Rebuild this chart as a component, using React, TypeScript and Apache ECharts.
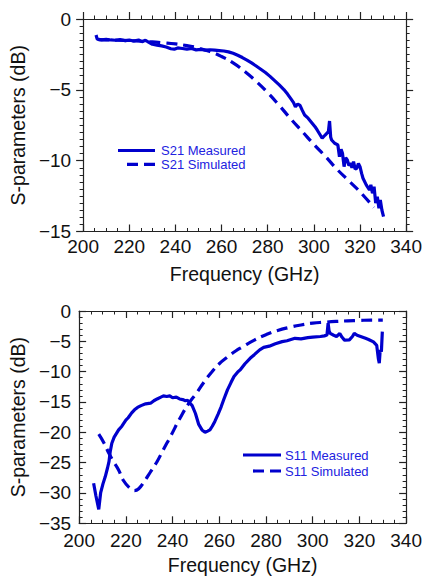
import React, { useEffect, useRef } from "react";
import * as echarts from "echarts";

// ---------- data ----------
const freqTicks = [200, 340, 20]; // min, max, interval (GHz)
const s21Range = [-15, 0, 5];
const s11Range = [-35, 0, 5];

const s21Measured: [number, number][] = [
  [205.6, -1.13], [206.1, -1.42], [208, -1.47], [210, -1.44], [212, -1.48], [214, -1.5],
  [216, -1.46], [218, -1.52], [220, -1.49], [222, -1.55], [224, -1.48], [225.5, -1.6],
  [227, -1.5], [228.5, -1.65], [230, -1.78], [232, -1.84], [234, -1.9], [236, -1.98],
  [238, -2.1], [239.5, -2.13], [241, -2.04], [243, -2.08], [245, -2.13], [247, -2.08],
  [249, -2.18], [251, -2.15], [253, -2.2], [255, -2.17], [257, -2.2], [259, -2.23],
  [261, -2.26], [263, -2.32], [265, -2.42], [267, -2.56], [269, -2.72], [271, -2.9],
  [273, -3.1], [275, -3.32], [277, -3.55], [279, -3.78], [281, -4.05], [283, -4.35],
  [285, -4.65], [287, -4.98], [288.6, -5.3], [290, -5.62], [291.2, -5.9], [292, -6.2],
  [293, -6.0], [294, -6.1], [295, -6.45], [296, -6.78], [297.5, -7.0], [299, -7.3],
  [300.5, -7.6], [301.5, -7.85], [302.5, -8.12], [303.6, -8.42], [304.9, -8.19],
  [306.3, -7.95], [306.8, -7.2], [307.3, -8.35], [307.7, -8.54], [309, -8.77],
  [310.4, -8.89], [311.1, -9.72], [311.8, -9.2], [312.4, -9.48], [313.1, -10.42],
  [313.8, -9.8], [314.5, -9.95], [315.2, -10.35], [315.9, -10.18], [316.5, -10.5],
  [317.2, -10.07], [317.9, -10.6], [318.6, -10.54], [319.3, -10.2], [320, -10.42],
  [320.7, -10.9], [321.3, -11.24], [322.7, -11.71], [324.1, -12.07], [324.7, -11.71],
  [325.4, -12.3], [326.1, -11.83], [326.8, -13.0], [327.5, -12.54], [328.2, -13.36],
  [328.8, -12.77], [329.5, -13.5], [330.2, -13.95],
];

const s21Simulated: [number, number][] = [
  [206.6, -1.45], [210, -1.47], [215, -1.5], [220, -1.53], [225, -1.57], [230, -1.62],
  [235, -1.68], [240, -1.76], [245, -1.88], [250, -2.05], [255, -2.3], [260, -2.65],
  [265, -3.1], [270, -3.7], [275, -4.4], [280, -5.2], [285, -6.1], [290, -7.05],
  [295, -7.95], [300, -8.85], [305, -9.7], [310, -10.6], [315, -11.4], [320, -12.2],
  [326, -13.3],
];

const s11Measured: [number, number][] = [
  [206.2, -28.4], [207.2, -30.5], [208.4, -32.7], [209.2, -30.0], [210.2, -28.5],
  [211.2, -27.3], [212.2, -25.8], [212.8, -24.8], [213.3, -23.2], [214, -21.8],
  [215, -20.8], [216.9, -19.6], [218.3, -19.0], [220, -18.0], [221, -17.6],
  [222.5, -16.8], [223.7, -16.3], [225, -15.9], [226.5, -15.6], [228.5, -15.3],
  [230.6, -15.2], [232, -14.8], [233.4, -14.5], [235, -14.2], [236.1, -14.0],
  [237.5, -14.1], [238.8, -14.0], [240, -14.3], [241.6, -14.2], [243, -14.5],
  [244.3, -14.6], [245.5, -14.8], [246.4, -14.7], [247.5, -15.2], [248.4, -15.6],
  [249.8, -16.9], [250.5, -17.8], [251.2, -18.7], [252.6, -19.6], [253.9, -20.0],
  [255, -19.8], [256, -19.6], [257, -19.0], [258.1, -18.2], [259.5, -17.0],
  [260.8, -15.8], [262, -14.5], [263.5, -13.0], [265, -11.8], [266.3, -10.8],
  [268, -10.0], [269, -9.7], [271, -8.7], [273.2, -7.8], [275, -7.2], [277.3, -6.4],
  [279, -6.0], [281.4, -5.8], [284, -5.4], [286.9, -5.05], [289, -4.9], [292.4, -4.5],
  [295, -4.6], [297.9, -4.4], [300, -4.3], [303.3, -4.2], [305, -4.1], [306.1, -3.96],
  [306.6, -2.0], [307.0, -3.3], [307.5, -3.7], [309, -4.0], [310.2, -4.2],
  [311.6, -3.7], [312.5, -4.3], [313.6, -4.8], [315.7, -4.75], [317, -4.2],
  [317.8, -3.7], [319, -4.0], [320.5, -4.2], [322.6, -4.5], [323.9, -4.7], [326, -5.1],
  [327.4, -5.66], [328.1, -7.85], [328.5, -8.6], [328.9, -6.4], [329.4, -6.7],
  [329.8, -3.4],
];

const s11Simulated: [number, number][] = [
  [208.4, -20.3], [210.7, -21.8], [212.8, -23.5], [215, -25.0], [216.9, -26.2],
  [218.9, -27.9], [221.7, -29.2], [223.7, -29.6], [225.5, -29.3], [227.9, -28.1],
  [230.6, -26.5], [233.4, -24.8], [236, -22.9], [239.5, -20.4], [243, -17.8],
  [247, -15.2], [250.5, -13.4], [253.5, -11.7], [256.7, -10.1], [260, -8.7],
  [263.5, -7.6], [267, -6.6], [270, -5.9], [275, -4.8], [280, -3.9], [285, -3.2],
  [290, -2.7], [295, -2.3], [300, -2.0], [305, -1.85], [310, -1.72], [315, -1.62],
  [320, -1.55], [325, -1.5], [330, -1.5],
];

const legendTop = ["S21 Measured", "S21 Simulated"];
const legendBottom = ["S11 Measured", "S11 Simulated"];
const xTitle = "Frequency (GHz)";
const yTitle = "S-parameters (dB)";

// ---------- styles ----------
const FONT = "Liberation Sans, Arial, sans-serif";
const LINE = "#0000CD";
const LEGEND_TEXT = "#2222E0";
const AXIS = "#222222";
const DASH = [11, 6];

const minusFmt = (v: number) => String(v).replace("-", "\u2212");

function axisCommon(range: number[], gridIndex: number, position: string, opts: any) {
  return {
    type: "value",
    gridIndex,
    position,
    min: range[0],
    max: range[1],
    interval: range[2],
    splitLine: { show: false },
    axisLine: { show: true, onZero: false, lineStyle: { color: AXIS, width: 1.2 } },
    axisTick: { show: true, inside: opts.inside, length: 7, lineStyle: { color: AXIS, width: 1.2 } },
    minorTick: { show: true, splitNumber: opts.minor, length: 3.5, lineStyle: { color: AXIS, width: 1 } },
    axisLabel: opts.label
      ? { show: true, margin: opts.margin, fontFamily: FONT, fontSize: 19, color: "#111", formatter: minusFmt }
      : { show: false },
    name: opts.name || "",
    nameLocation: "middle",
    nameGap: opts.nameGap || 0,
    nameTextStyle: { fontFamily: FONT, fontSize: 19.5, color: "#111" },
  };
}

export default function App() {
  const ref = useRef<HTMLDivElement>(null);

  useEffect(() => {
    if (!ref.current) return;
    const chart = echarts.init(ref.current, undefined, { renderer: "svg" });

    const legendItems = (x1: number, x2: number, dx1: number, textX: number, y1: number, y2: number, labels: string[]) => [
      { type: "line", shape: { x1, y1, x2, y2: y1 }, style: { stroke: LINE, lineWidth: 3.2 } },
      { type: "line", shape: { x1: dx1, y1: y2, x2, y2 }, style: { stroke: LINE, lineWidth: 3.2, lineDash: DASH } },
      { type: "text", x: textX, y: y1, style: { text: labels[0], fill: LEGEND_TEXT, font: `13px ${FONT}`, verticalAlign: "middle" } },
      { type: "text", x: textX, y: y2, style: { text: labels[1], fill: LEGEND_TEXT, font: `13px ${FONT}`, verticalAlign: "middle" } },
    ];

    chart.setOption({
      animation: false,
      backgroundColor: "#fff",
      grid: [
        { left: 69, top: 19, width: 341.5, height: 212.5 },
        { left: 69, top: 311, width: 340, height: 212.3 },
      ],
      xAxis: [
        axisCommon(freqTicks, 0, "bottom", { inside: true, minor: 4, label: true, margin: 5, name: xTitle, nameGap: 32 }),
        axisCommon(freqTicks, 0, "top", { inside: false, minor: 4, label: false }),
        axisCommon(freqTicks, 1, "bottom", { inside: true, minor: 4, label: true, margin: 8, name: xTitle, nameGap: 32 }),
        axisCommon(freqTicks, 1, "top", { inside: true, minor: 4, label: false }),
      ],
      yAxis: [
        axisCommon(s21Range, 0, "left", { inside: false, minor: 10, label: true, margin: 12, name: yTitle, nameGap: 42 }),
        axisCommon(s21Range, 0, "right", { inside: false, minor: 10, label: false }),
        axisCommon(s11Range, 1, "left", { inside: true, minor: 5, label: true, margin: 8, name: yTitle, nameGap: 42 }),
        axisCommon(s11Range, 1, "right", { inside: true, minor: 5, label: false }),
      ],
      series: [
        { name: legendTop[0], type: "line", xAxisIndex: 0, yAxisIndex: 0, data: s21Measured, showSymbol: false, symbol: "none", lineStyle: { color: LINE, width: 3.2 } },
        { name: legendTop[1], type: "line", xAxisIndex: 0, yAxisIndex: 0, data: s21Simulated, smooth: true, showSymbol: false, symbol: "none", lineStyle: { color: LINE, width: 3.2, type: DASH } },
        { name: legendBottom[0], type: "line", xAxisIndex: 2, yAxisIndex: 2, data: s11Measured, showSymbol: false, symbol: "none", lineStyle: { color: LINE, width: 3.2 } },
        { name: legendBottom[1], type: "line", xAxisIndex: 2, yAxisIndex: 2, data: s11Simulated, smooth: true, showSymbol: false, symbol: "none", lineStyle: { color: LINE, width: 3.2, type: DASH } },
      ],
      graphic: [
        ...legendItems(118, 155, 127, 161, 150.5, 164.3, legendTop),
        ...legendItems(243, 281, 253, 285, 455, 471, legendBottom),
      ],
    });

    return () => chart.dispose();
  }, []);

  return (
    <div
      ref={ref}
      style={{ position: "absolute", left: 0, top: 0, width: 425, height: 578, background: "#fff" }}
    />
  );
}
